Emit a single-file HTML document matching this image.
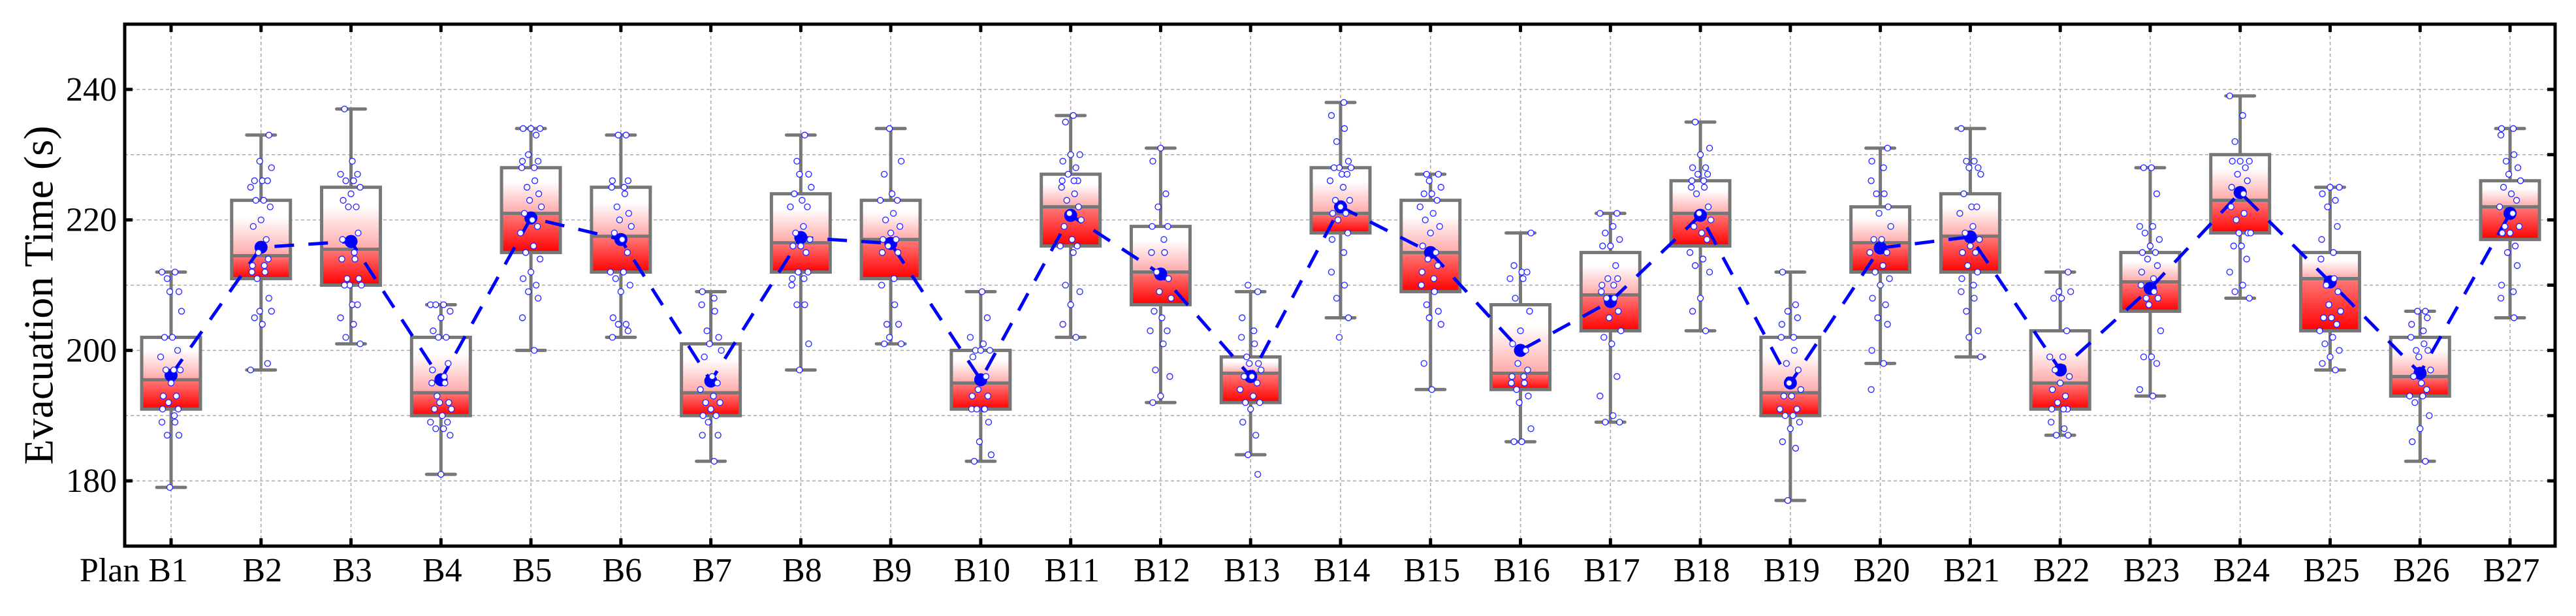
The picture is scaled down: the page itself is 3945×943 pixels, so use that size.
<!DOCTYPE html>
<html><head><meta charset="utf-8">
<style>
html,body{margin:0;padding:0;background:#fff;}
svg{display:block;}
text{font-family:"Liberation Serif",serif;fill:#000;}
</style></head>
<body>
<svg id="chart" width="3945" height="943" viewBox="0 0 3945 943" xmlns="http://www.w3.org/2000/svg">
<defs>
<linearGradient id="gUp" x1="0" y1="0" x2="0" y2="1"><stop offset="0" stop-color="#ffffff"/><stop offset="0.3" stop-color="#ffffff"/><stop offset="1" stop-color="#ffa8a8"/></linearGradient>
<linearGradient id="gLo" x1="0" y1="0" x2="0" y2="1"><stop offset="0" stop-color="#ff7a7a"/><stop offset="1" stop-color="#ff0000"/></linearGradient>
</defs>
<g id="grid"></g>
<g id="boxes"></g>
<g id="means"></g>
<g id="pts"></g>
<g id="axes"></g>
<text x="66" y="452" font-size="64" text-anchor="middle" dominant-baseline="middle" transform="rotate(-90 66 452)">Evacuation Time (s)</text>
</svg>
<script>
const categories = ["Plan B1","B2","B3","B4","B5","B6","B7","B8","B9","B10","B11","B12","B13","B14","B15","B16","B17","B18","B19","B20","B21","B22","B23","B24","B25","B26","B27"];
const whiskerLow = [179,197,201,181,200,202,183,197,201,183,202,192,184,205,194,186,189,203,177,198,199,187,193,208,197,183,205];
const q1Values = [191,211,210,190,215,212,190,212,211,191,216,207,192,218,209,194,203,216,190,212,212,191,206,218,203,193,217];
const medianValues = [195.5,214.5,215.5,193.5,221,217.5,193.5,216.5,217,195,222,212,196.5,221,215,196.5,208.5,221,193.5,216.5,217.5,195,210.5,223,211,196,222];
const q3Values = [202,223,225,202,228,225,201,224,223,200,227,219,199,228,223,207,215,226,202,222,224,203,215,230,215,202,226];
const whiskerHigh = [212,233,237,207,234,233,209,233,234,209,236,231,209,238,227,218,221,235,212,231,234,212,228,239,225,206,234];
const meanValues = [196.2,215.8,216.7,195.5,220.3,217,195.3,217.3,216.4,195.5,220.7,211.7,196,222,215,200,207.5,220.7,195,215.7,217.4,197,209.5,224.2,210.5,196.5,221];
const pointsB = [
[212,212,211,209,209,206,202,202,200,199,197,197,197,195,193,193,192,191,191,190,189,189,187,187,179],
[233,229,228,226,226,226,225,223,223,222,220,219,217,215,214,213,213,212,212,211,208,206,206,205,204,198,197],
[237,229,227,227,226,226,225,224,223,222,222,218,217,215,214,214,211,211,210,210,210,207,207,205,204,202,201],
[207,207,207,206,205,203,202,202,198,197,196,195,195,193,192,192,191,191,190,189,189,188,188,187,181],
[234,234,234,233,230,229,229,228,228,226,225,224,223,222,221,220,219,218,216,215,214,212,211,210,209,208,205,200],
[233,233,226,226,225,225,224,222,221,220,219,218,217,215,212,212,211,210,209,205,204,204,203,202],
[209,208,207,206,203,202,201,200,199,196,195,194,193,192,192,191,190,190,189,187,187,183],
[233,229,227,227,225,224,223,222,222,219,218,217,216,216,215,212,212,211,211,210,207,207,201,197],
[234,229,227,224,223,223,221,220,219,218,217,217,216,215,215,211,210,207,204,204,202,201,201],
[209,205,202,201,200,200,200,199,196,194,193,193,191,191,191,191,189,186,184,183],
[236,235,230,230,229,228,227,226,226,226,225,224,223,222,221,220,219,217,216,216,215,210,209,207,204,202],
[231,229,224,222,219,219,217,215,215,212,211,209,208,206,205,203,203,201,197,196,193,192],
[210,209,205,203,202,201,199,198,198,197,196,196,195,194,193,192,192,191,189,187,184,181],
[238,236,234,232,229,228,228,228,227,227,226,225,223,223,222,221,221,220,218,217,215,212,210,208,205,202],
[227,227,226,225,224,224,223,222,221,220,219,218,216,215,214,213,212,211,210,209,207,206,205,204,198,194],
[218,213,212,212,211,211,208,206,203,201,200,198,197,196,196,195,195,194,193,192,188,186,186],
[221,221,219,218,217,216,216,213,211,211,210,210,209,208,208,206,205,203,202,201,196,193,190,189,189],
[235,231,230,228,228,227,227,226,226,225,225,224,222,221,220,219,218,217,215,214,213,212,208,206,203],
[212,207,206,205,204,202,202,200,198,197,195,194,193,193,191,191,190,190,189,188,186,185,177],
[231,229,228,226,224,224,222,221,219,217,217,215,215,213,212,211,210,208,207,205,204,200,198,194],
[234,229,229,228,228,227,224,222,222,221,219,218,217,216,215,215,213,212,211,210,209,208,206,203,202,199],
[212,209,209,208,208,203,199,199,197,196,195,194,193,192,191,191,191,189,188,187,187],
[228,228,224,219,219,218,217,216,215,215,214,213,212,211,210,209,208,208,207,203,199,199,198,194,193],
[239,236,232,229,229,229,228,227,226,225,224,222,221,220,218,218,218,216,216,214,212,210,209,208],
[225,225,224,223,222,219,217,215,214,211,210,209,207,206,205,205,204,203,202,201,200,199,198,197],
[206,206,205,204,203,202,201,200,200,199,197,196,195,194,193,193,192,190,188,186,183],
[234,234,233,230,229,228,227,226,225,224,223,222,221,219,219,218,218,216,215,213,210,209,208,205]
];
const yTicks = [180,200,220,240];
const yGrid = [180,190,200,210,220,230,240];

const NS="http://www.w3.org/2000/svg";
const L=191,R=3913,T=37,B=836,YMIN=170,YMAX=250;
const X0=262,STEP=(3844-262)/26;
function xs(i){return X0+i*STEP;}
function ys(v){return T+(YMAX-v)*(B-T)/(YMAX-YMIN);}
function mk(tag,attrs,parent){const e=document.createElementNS(NS,tag);for(const k in attrs)e.setAttribute(k,attrs[k]);parent.appendChild(e);return e;}
const gGrid=document.getElementById('grid'),gBox=document.getElementById('boxes'),gMean=document.getElementById('means'),gPts=document.getElementById('pts'),gAx=document.getElementById('axes');

yGrid.forEach(v=>{const l=mk('line',{x1:L,x2:R,y1:ys(v),y2:ys(v),stroke:'#aaaaaa','stroke-width':1.6,'stroke-dasharray':'5 4'},gGrid);

});
categories.forEach((c,i)=>{const l=mk('line',{x1:xs(i),x2:xs(i),y1:T,y2:B,stroke:'#aaaaaa','stroke-width':1.6,'stroke-dasharray':'5 4'},gGrid);

});

const BW=90,CW=44,GR='#777777';
categories.forEach((c,i)=>{
  const x=xs(i);
  const g=mk('g',{},gBox);
  
  
  mk('line',{x1:x,x2:x,y1:ys(whiskerHigh[i]),y2:ys(q3Values[i]),stroke:GR,'stroke-width':5},g);
  mk('line',{x1:x,x2:x,y1:ys(q1Values[i]),y2:ys(whiskerLow[i]),stroke:GR,'stroke-width':5},g);
  mk('line',{x1:x-CW/2,x2:x+CW/2,y1:ys(whiskerHigh[i]),y2:ys(whiskerHigh[i]),stroke:GR,'stroke-width':5,'stroke-linecap':'round'},g);
  mk('line',{x1:x-CW/2,x2:x+CW/2,y1:ys(whiskerLow[i]),y2:ys(whiskerLow[i]),stroke:GR,'stroke-width':5,'stroke-linecap':'round'},g);
  mk('rect',{x:x-BW/2,y:ys(q3Values[i]),width:BW,height:ys(medianValues[i])-ys(q3Values[i]),fill:'url(#gUp)'},g);
  mk('rect',{x:x-BW/2,y:ys(medianValues[i]),width:BW,height:ys(q1Values[i])-ys(medianValues[i]),fill:'url(#gLo)'},g);
  mk('rect',{x:x-BW/2,y:ys(q3Values[i]),width:BW,height:ys(q1Values[i])-ys(q3Values[i]),fill:'none',stroke:GR,'stroke-width':5},g);
  mk('line',{x1:x-BW/2,x2:x+BW/2,y1:ys(medianValues[i]),y2:ys(medianValues[i]),stroke:GR,'stroke-width':5},g);
});

let d='';
meanValues.forEach((v,i)=>{d+=(i?'L':'M')+xs(i).toFixed(1)+' '+ys(v).toFixed(1)+' ';});
const ml=mk('path',{d:d,fill:'none',stroke:'#0000ff','stroke-width':5,'stroke-dasharray':'30 22'},gMean);


meanValues.forEach((v,i)=>{const c=mk('circle',{cx:xs(i),cy:ys(v),r:10,fill:'#0000ff'},gMean);

});

const jit=[-14,6,-6,12,-2,16,-10,2,10,-16,4,-8,14,0,-12,8,-4,11,-13,5];
pointsB.forEach((arr,i)=>{arr.forEach((v,j)=>{
  const p=mk('circle',{cx:xs(i)+jit[(j+i*3)%jit.length],cy:ys(v),r:4.5,fill:'#ffffff',stroke:'#2222ff','stroke-width':1.3},gPts);
  
  
});});

const fr=mk('rect',{x:L,y:T,width:R-L,height:B-T,fill:'none',stroke:'#000','stroke-width':5},gAx);


categories.forEach((c,i)=>{
  mk('line',{x1:xs(i),x2:xs(i),y1:T,y2:T+12,stroke:'#000','stroke-width':5},gAx);
  mk('line',{x1:xs(i),x2:xs(i),y1:B,y2:B-12,stroke:'#000','stroke-width':5},gAx);
  const t=mk('text',{x:i===0?288:xs(i)+2,y:890,'font-size':52,'text-anchor':i===0?'end':'middle'},gAx);
  t.textContent=c;
  
  
});
yGrid.forEach(v=>{
  mk('line',{x1:R,x2:R-12,y1:ys(v),y2:ys(v),stroke:'#000','stroke-width':5},gAx);
});
yTicks.forEach(v=>{
  mk('line',{x1:L,x2:L+12,y1:ys(v),y2:ys(v),stroke:'#000','stroke-width':5},gAx);
  const t=mk('text',{x:179,y:ys(v)+17,'font-size':52,'text-anchor':'end'},gAx);
  t.textContent=v;
  
  
});
</script>
</body></html>
